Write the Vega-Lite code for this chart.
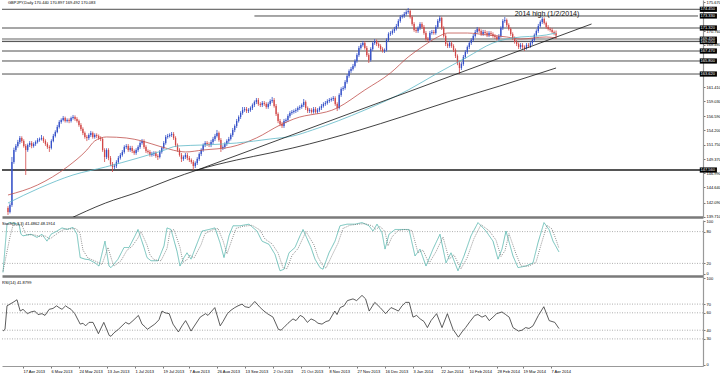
{
"$schema":"https://vega.github.io/schema/vega-lite/v6.json",
"padding":0,
"background":"white",
"spacing":0,
"resolve":{"scale":{"color":"independent","strokeDash":"independent"}},
"config":{"view":{"stroke":null},"axis":{"grid":false,"title":null,"labelOverlap":false,"labelSeparation":0,"labelLimit":0}},
"datasets":{
"candles":[
{"i":0,"o":141.21,"h":141.5,"l":140.04,"c":140.54},{"i":1,"o":140.54,"h":142.0,"l":140.3,"c":141.71},{"i":2,"o":141.71,"h":149.74,"l":141.4,"c":148.9},{"i":3,"o":148.9,"h":151.3,"l":148.6,"c":150.91},{"i":4,"o":150.91,"h":151.9,"l":150.6,"c":151.58},{"i":5,"o":151.58,"h":152.6,"l":151.3,"c":152.25},{"i":6,"o":152.25,"h":153.25,"l":151.9,"c":152.92},{"i":7,"o":152.92,"h":153.2,"l":152.1,"c":152.42},{"i":8,"o":152.42,"h":152.7,"l":151.3,"c":151.58},{"i":9,"o":151.58,"h":151.9,"l":146.73,"c":150.91},
{"i":10,"o":150.91,"h":152.0,"l":150.6,"c":151.75},{"i":11,"o":151.75,"h":152.4,"l":151.4,"c":152.08},{"i":12,"o":152.08,"h":152.4,"l":151.2,"c":151.58},{"i":13,"o":151.58,"h":152.2,"l":151.3,"c":151.91},{"i":14,"o":151.91,"h":152.5,"l":151.6,"c":152.25},{"i":15,"o":152.25,"h":152.9,"l":152.0,"c":152.58},{"i":16,"o":152.58,"h":153.0,"l":152.3,"c":152.75},{"i":17,"o":152.75,"h":153.42,"l":152.5,"c":152.92},{"i":18,"o":152.92,"h":153.2,"l":152.1,"c":152.42},{"i":19,"o":152.42,"h":152.7,"l":151.6,"c":151.91},
{"i":20,"o":151.91,"h":152.2,"l":151.1,"c":151.41},{"i":21,"o":151.41,"h":151.7,"l":150.58,"c":151.25},{"i":22,"o":151.25,"h":152.7,"l":151.0,"c":152.42},{"i":23,"o":152.42,"h":153.6,"l":152.2,"c":153.25},{"i":24,"o":153.25,"h":154.2,"l":153.0,"c":153.92},{"i":25,"o":153.92,"h":155.1,"l":153.7,"c":154.76},{"i":26,"o":154.76,"h":155.9,"l":154.5,"c":155.59},{"i":27,"o":155.59,"h":156.2,"l":155.3,"c":155.93},{"i":28,"o":155.93,"h":156.6,"l":155.7,"c":156.26},{"i":29,"o":156.26,"h":156.5,"l":155.5,"c":155.76},
{"i":30,"o":155.76,"h":156.2,"l":155.5,"c":155.93},{"i":31,"o":155.93,"h":156.2,"l":155.4,"c":155.76},{"i":32,"o":155.76,"h":156.5,"l":155.5,"c":156.26},{"i":33,"o":156.26,"h":156.77,"l":156.0,"c":156.43},{"i":34,"o":156.43,"h":156.7,"l":155.8,"c":156.1},{"i":35,"o":156.1,"h":156.4,"l":155.5,"c":155.76},{"i":36,"o":155.76,"h":156.0,"l":154.8,"c":155.09},{"i":37,"o":155.09,"h":155.4,"l":154.1,"c":154.42},{"i":38,"o":154.42,"h":154.7,"l":153.4,"c":153.75},{"i":39,"o":153.75,"h":154.0,"l":152.8,"c":153.09},
{"i":40,"o":153.09,"h":153.4,"l":152.4,"c":152.92},{"i":41,"o":152.92,"h":153.7,"l":152.6,"c":153.42},{"i":42,"o":153.42,"h":154.1,"l":153.1,"c":153.75},{"i":43,"o":153.75,"h":154.0,"l":152.8,"c":153.09},{"i":44,"o":153.09,"h":153.7,"l":152.8,"c":153.42},{"i":45,"o":153.42,"h":153.7,"l":152.9,"c":153.25},{"i":46,"o":153.25,"h":153.5,"l":152.6,"c":152.92},{"i":47,"o":152.92,"h":153.2,"l":152.4,"c":152.75},{"i":48,"o":152.75,"h":153.0,"l":150.6,"c":150.91},{"i":49,"o":150.91,"h":151.2,"l":148.9,"c":149.74},
{"i":50,"o":149.74,"h":151.2,"l":149.4,"c":150.91},{"i":51,"o":150.91,"h":151.2,"l":149.2,"c":149.57},{"i":52,"o":149.57,"h":149.9,"l":148.2,"c":148.57},{"i":53,"o":148.57,"h":148.9,"l":147.23,"c":148.07},{"i":54,"o":148.07,"h":148.6,"l":147.7,"c":148.23},{"i":55,"o":148.23,"h":149.2,"l":147.9,"c":148.9},{"i":56,"o":148.9,"h":149.9,"l":148.6,"c":149.57},{"i":57,"o":149.57,"h":150.4,"l":149.3,"c":150.07},{"i":58,"o":150.07,"h":150.9,"l":149.8,"c":150.58},{"i":59,"o":150.58,"h":151.7,"l":150.3,"c":151.41},
{"i":60,"o":151.41,"h":151.9,"l":151.1,"c":151.58},{"i":61,"o":151.58,"h":151.9,"l":150.6,"c":150.91},{"i":62,"o":150.91,"h":151.6,"l":150.6,"c":151.25},{"i":63,"o":151.25,"h":151.6,"l":150.4,"c":150.74},{"i":64,"o":150.74,"h":151.0,"l":150.1,"c":150.41},{"i":65,"o":150.41,"h":151.2,"l":150.1,"c":150.91},{"i":66,"o":150.91,"h":151.7,"l":150.6,"c":151.41},{"i":67,"o":151.41,"h":152.4,"l":151.1,"c":152.08},{"i":68,"o":152.08,"h":152.75,"l":151.8,"c":152.42},{"i":69,"o":152.42,"h":152.7,"l":151.1,"c":151.41},
{"i":70,"o":151.41,"h":151.7,"l":150.4,"c":150.74},{"i":71,"o":150.74,"h":151.0,"l":150.3,"c":150.58},{"i":72,"o":150.58,"h":150.9,"l":149.8,"c":150.07},{"i":73,"o":150.07,"h":150.6,"l":149.8,"c":150.24},{"i":74,"o":150.24,"h":150.7,"l":149.9,"c":150.41},{"i":75,"o":150.41,"h":150.7,"l":149.6,"c":149.91},{"i":76,"o":149.91,"h":150.2,"l":149.24,"c":149.74},{"i":77,"o":149.74,"h":150.9,"l":149.5,"c":150.58},{"i":78,"o":150.58,"h":151.5,"l":150.3,"c":151.25},{"i":79,"o":151.25,"h":152.4,"l":151.0,"c":152.08},
{"i":80,"o":152.08,"h":153.4,"l":151.8,"c":153.09},{"i":81,"o":153.09,"h":153.6,"l":152.8,"c":153.25},{"i":82,"o":153.25,"h":153.7,"l":153.0,"c":153.42},{"i":83,"o":153.42,"h":153.92,"l":153.1,"c":153.59},{"i":84,"o":153.59,"h":153.9,"l":152.6,"c":152.92},{"i":85,"o":152.92,"h":153.2,"l":151.4,"c":151.75},{"i":86,"o":151.75,"h":152.0,"l":150.6,"c":150.91},{"i":87,"o":150.91,"h":151.2,"l":149.8,"c":150.07},{"i":88,"o":150.07,"h":150.4,"l":148.9,"c":149.4},{"i":89,"o":149.4,"h":150.0,"l":149.1,"c":149.74},
{"i":90,"o":149.74,"h":150.4,"l":149.4,"c":150.07},{"i":91,"o":150.07,"h":150.4,"l":149.2,"c":149.57},{"i":92,"o":149.57,"h":149.9,"l":148.9,"c":149.24},{"i":93,"o":149.24,"h":149.5,"l":148.6,"c":148.9},{"i":94,"o":148.9,"h":149.2,"l":147.56,"c":148.23},{"i":95,"o":148.23,"h":149.0,"l":147.9,"c":148.74},{"i":96,"o":148.74,"h":149.7,"l":148.4,"c":149.4},{"i":97,"o":149.4,"h":150.5,"l":149.1,"c":150.24},{"i":98,"o":150.24,"h":151.2,"l":149.9,"c":150.91},{"i":99,"o":150.91,"h":152.0,"l":150.6,"c":151.75},
{"i":100,"o":151.75,"h":152.4,"l":151.4,"c":152.08},{"i":101,"o":152.08,"h":152.4,"l":151.6,"c":151.91},{"i":102,"o":151.91,"h":152.2,"l":151.4,"c":151.75},{"i":103,"o":151.75,"h":152.6,"l":151.4,"c":152.25},{"i":104,"o":152.25,"h":153.1,"l":151.9,"c":152.75},{"i":105,"o":152.75,"h":153.6,"l":152.4,"c":153.25},{"i":106,"o":153.25,"h":154.26,"l":153.0,"c":153.75},{"i":107,"o":153.75,"h":154.0,"l":152.3,"c":152.58},{"i":108,"o":152.58,"h":152.9,"l":150.58,"c":151.25},{"i":109,"o":151.25,"h":151.7,"l":150.9,"c":151.41},
{"i":110,"o":151.41,"h":152.2,"l":151.1,"c":151.91},{"i":111,"o":151.91,"h":152.7,"l":151.6,"c":152.42},{"i":112,"o":152.42,"h":153.1,"l":152.1,"c":152.75},{"i":113,"o":152.75,"h":153.7,"l":152.5,"c":153.42},{"i":114,"o":153.42,"h":154.6,"l":153.1,"c":154.26},{"i":115,"o":154.26,"h":155.2,"l":153.9,"c":154.92},{"i":116,"o":154.92,"h":156.1,"l":154.6,"c":155.76},{"i":117,"o":155.76,"h":156.7,"l":155.5,"c":156.43},{"i":118,"o":156.43,"h":157.4,"l":156.1,"c":157.1},{"i":119,"o":157.1,"h":158.1,"l":156.8,"c":157.6},
{"i":120,"o":157.6,"h":158.1,"l":157.3,"c":157.77},{"i":121,"o":157.77,"h":158.1,"l":157.1,"c":157.43},{"i":122,"o":157.43,"h":157.9,"l":157.1,"c":157.6},{"i":123,"o":157.6,"h":158.2,"l":157.3,"c":157.94},{"i":124,"o":157.94,"h":158.7,"l":157.6,"c":158.44},{"i":125,"o":158.44,"h":159.2,"l":158.1,"c":158.94},{"i":126,"o":158.94,"h":159.61,"l":158.6,"c":159.28},{"i":127,"o":159.28,"h":159.6,"l":158.3,"c":158.61},{"i":128,"o":158.61,"h":158.9,"l":158.1,"c":158.44},{"i":129,"o":158.44,"h":159.1,"l":158.1,"c":158.77},
{"i":130,"o":158.77,"h":159.1,"l":158.3,"c":158.61},{"i":131,"o":158.61,"h":158.9,"l":157.8,"c":158.1},{"i":132,"o":158.1,"h":158.9,"l":157.8,"c":158.61},{"i":133,"o":158.61,"h":159.4,"l":158.3,"c":159.11},{"i":134,"o":159.11,"h":159.78,"l":158.8,"c":159.28},{"i":135,"o":159.28,"h":159.6,"l":158.0,"c":158.27},{"i":136,"o":158.27,"h":158.6,"l":156.6,"c":156.93},{"i":137,"o":156.93,"h":157.2,"l":155.4,"c":155.76},{"i":138,"o":155.76,"h":156.1,"l":154.9,"c":155.26},{"i":139,"o":155.26,"h":155.6,"l":154.59,"c":154.92},
{"i":140,"o":154.92,"h":156.1,"l":154.6,"c":155.76},{"i":141,"o":155.76,"h":156.2,"l":155.4,"c":155.93},{"i":142,"o":155.93,"h":156.9,"l":155.6,"c":156.6},{"i":143,"o":156.6,"h":157.4,"l":156.3,"c":157.1},{"i":144,"o":157.1,"h":157.6,"l":156.8,"c":157.27},{"i":145,"o":157.27,"h":157.7,"l":157.0,"c":157.43},{"i":146,"o":157.43,"h":157.9,"l":157.1,"c":157.6},{"i":147,"o":157.6,"h":158.2,"l":157.3,"c":157.94},{"i":148,"o":157.94,"h":158.4,"l":157.6,"c":158.1},{"i":149,"o":158.1,"h":158.7,"l":157.8,"c":158.44},
{"i":150,"o":158.44,"h":159.44,"l":158.1,"c":158.94},{"i":151,"o":158.94,"h":159.2,"l":157.6,"c":157.94},{"i":152,"o":157.94,"h":158.2,"l":157.1,"c":157.43},{"i":153,"o":157.43,"h":157.9,"l":157.1,"c":157.6},{"i":154,"o":157.6,"h":157.9,"l":157.0,"c":157.27},{"i":155,"o":157.27,"h":158.1,"l":157.0,"c":157.77},{"i":156,"o":157.77,"h":158.1,"l":157.0,"c":157.27},{"i":157,"o":157.27,"h":157.9,"l":157.0,"c":157.6},{"i":158,"o":157.6,"h":158.2,"l":157.3,"c":157.94},{"i":159,"o":157.94,"h":158.6,"l":157.6,"c":158.27},
{"i":160,"o":158.27,"h":158.9,"l":158.0,"c":158.61},{"i":161,"o":158.61,"h":159.1,"l":158.3,"c":158.77},{"i":162,"o":158.77,"h":159.4,"l":158.5,"c":159.11},{"i":163,"o":159.11,"h":159.6,"l":158.8,"c":159.28},{"i":164,"o":159.28,"h":159.7,"l":159.0,"c":159.44},{"i":165,"o":159.44,"h":159.94,"l":159.1,"c":159.61},{"i":166,"o":159.61,"h":159.9,"l":158.3,"c":158.61},{"i":167,"o":158.61,"h":158.9,"l":157.43,"c":157.94},{"i":168,"o":157.94,"h":160.4,"l":157.7,"c":160.11},{"i":169,"o":160.11,"h":161.4,"l":159.8,"c":161.12},
{"i":170,"o":161.12,"h":161.6,"l":160.8,"c":161.28},{"i":171,"o":161.28,"h":162.6,"l":161.0,"c":162.29},{"i":172,"o":162.29,"h":163.6,"l":162.0,"c":163.29},{"i":173,"o":163.29,"h":164.4,"l":163.0,"c":164.13},{"i":174,"o":164.13,"h":164.8,"l":163.8,"c":164.46},{"i":175,"o":164.46,"h":165.3,"l":164.2,"c":164.96},{"i":176,"o":164.96,"h":166.1,"l":164.7,"c":165.8},{"i":177,"o":165.8,"h":167.1,"l":165.5,"c":166.8},{"i":178,"o":166.8,"h":168.3,"l":166.5,"c":167.97},{"i":179,"o":167.97,"h":168.8,"l":167.7,"c":168.48},
{"i":180,"o":168.48,"h":169.15,"l":168.2,"c":168.81},{"i":181,"o":168.81,"h":169.1,"l":167.7,"c":167.97},{"i":182,"o":167.97,"h":168.3,"l":166.5,"c":166.8},{"i":183,"o":166.8,"h":167.1,"l":165.47,"c":165.97},{"i":184,"o":165.97,"h":168.1,"l":165.7,"c":167.81},{"i":185,"o":167.81,"h":169.1,"l":167.5,"c":168.81},{"i":186,"o":168.81,"h":169.48,"l":168.5,"c":169.15},{"i":187,"o":169.15,"h":169.4,"l":168.3,"c":168.64},{"i":188,"o":168.64,"h":168.9,"l":168.0,"c":168.31},{"i":189,"o":168.31,"h":168.6,"l":167.5,"c":167.81},
{"i":190,"o":167.81,"h":168.1,"l":167.2,"c":167.47},{"i":191,"o":167.47,"h":167.9,"l":167.14,"c":167.64},{"i":192,"o":167.64,"h":169.6,"l":167.4,"c":169.31},{"i":193,"o":169.31,"h":170.6,"l":169.0,"c":170.32},{"i":194,"o":170.32,"h":170.8,"l":170.0,"c":170.48},{"i":195,"o":170.48,"h":171.1,"l":170.2,"c":170.82},{"i":196,"o":170.82,"h":171.5,"l":170.5,"c":171.15},{"i":197,"o":171.15,"h":172.0,"l":170.9,"c":171.66},{"i":198,"o":171.66,"h":172.8,"l":171.4,"c":172.49},{"i":199,"o":172.49,"h":173.5,"l":172.2,"c":173.16},
{"i":200,"o":173.16,"h":173.6,"l":172.9,"c":173.33},{"i":201,"o":173.33,"h":174.0,"l":173.0,"c":173.66},{"i":202,"o":173.66,"h":174.3,"l":173.4,"c":174.0},{"i":203,"o":174.0,"h":174.67,"l":173.7,"c":174.17},{"i":204,"o":174.17,"h":174.4,"l":172.9,"c":173.16},{"i":205,"o":173.16,"h":173.4,"l":171.7,"c":171.99},{"i":206,"o":171.99,"h":172.3,"l":170.7,"c":170.99},{"i":207,"o":170.99,"h":171.3,"l":170.5,"c":170.82},{"i":208,"o":170.82,"h":171.6,"l":170.5,"c":171.32},{"i":209,"o":171.32,"h":172.3,"l":171.0,"c":171.99},
{"i":210,"o":171.99,"h":172.3,"l":171.2,"c":171.49},{"i":211,"o":171.49,"h":171.8,"l":170.2,"c":170.48},{"i":212,"o":170.48,"h":170.8,"l":169.2,"c":169.48},{"i":213,"o":169.48,"h":169.8,"l":168.98,"c":169.31},{"i":214,"o":169.31,"h":170.8,"l":169.0,"c":170.48},{"i":215,"o":170.48,"h":171.0,"l":170.2,"c":170.65},{"i":216,"o":170.65,"h":171.0,"l":170.2,"c":170.48},{"i":217,"o":170.48,"h":171.8,"l":170.2,"c":171.49},{"i":218,"o":171.49,"h":172.8,"l":171.2,"c":172.49},{"i":219,"o":172.49,"h":173.33,"l":172.2,"c":172.99},
{"i":220,"o":172.99,"h":173.2,"l":171.0,"c":171.32},{"i":221,"o":171.32,"h":171.6,"l":169.7,"c":169.98},{"i":222,"o":169.98,"h":170.3,"l":168.3,"c":168.64},{"i":223,"o":168.64,"h":168.9,"l":167.97,"c":168.31},{"i":224,"o":168.31,"h":169.1,"l":168.0,"c":168.81},{"i":225,"o":168.81,"h":169.1,"l":168.0,"c":168.31},{"i":226,"o":168.31,"h":168.6,"l":167.3,"c":167.64},{"i":227,"o":167.64,"h":167.9,"l":166.3,"c":166.64},{"i":228,"o":166.64,"h":166.9,"l":165.1,"c":165.47},{"i":229,"o":165.47,"h":165.8,"l":163.62,"c":164.63},
{"i":230,"o":164.63,"h":165.6,"l":164.3,"c":165.3},{"i":231,"o":165.3,"h":166.8,"l":165.0,"c":166.47},{"i":232,"o":166.47,"h":167.6,"l":166.2,"c":167.31},{"i":233,"o":167.31,"h":168.4,"l":167.0,"c":168.14},{"i":234,"o":168.14,"h":169.1,"l":167.8,"c":168.81},{"i":235,"o":168.81,"h":169.6,"l":168.5,"c":169.31},{"i":236,"o":169.31,"h":170.3,"l":169.0,"c":169.98},{"i":237,"o":169.98,"h":171.0,"l":169.7,"c":170.65},{"i":238,"o":170.65,"h":171.49,"l":170.4,"c":171.15},{"i":239,"o":171.15,"h":171.4,"l":170.5,"c":170.82},
{"i":240,"o":170.82,"h":171.1,"l":170.0,"c":170.32},{"i":241,"o":170.32,"h":171.0,"l":170.0,"c":170.65},{"i":242,"o":170.65,"h":171.0,"l":170.2,"c":170.48},{"i":243,"o":170.48,"h":170.8,"l":169.8,"c":170.15},{"i":244,"o":170.15,"h":170.8,"l":169.8,"c":170.48},{"i":245,"o":170.48,"h":170.8,"l":170.0,"c":170.32},{"i":246,"o":170.32,"h":170.6,"l":169.7,"c":169.98},{"i":247,"o":169.98,"h":170.3,"l":169.5,"c":169.82},{"i":248,"o":169.82,"h":170.1,"l":169.2,"c":169.48},{"i":249,"o":169.48,"h":170.3,"l":169.2,"c":169.98},
{"i":250,"o":169.98,"h":171.6,"l":169.7,"c":171.32},{"i":251,"o":171.32,"h":172.8,"l":171.0,"c":172.49},{"i":252,"o":172.49,"h":173.16,"l":172.2,"c":172.66},{"i":253,"o":172.66,"h":172.9,"l":171.5,"c":171.82},{"i":254,"o":171.82,"h":172.1,"l":170.9,"c":171.15},{"i":255,"o":171.15,"h":171.4,"l":170.0,"c":170.32},{"i":256,"o":170.32,"h":170.6,"l":169.3,"c":169.65},{"i":257,"o":169.65,"h":169.9,"l":168.7,"c":168.98},{"i":258,"o":168.98,"h":169.3,"l":168.3,"c":168.64},{"i":259,"o":168.64,"h":168.9,"l":167.8,"c":168.14},
{"i":260,"o":168.14,"h":168.8,"l":167.8,"c":168.48},{"i":261,"o":168.48,"h":168.8,"l":167.8,"c":168.14},{"i":262,"o":168.14,"h":168.4,"l":167.47,"c":167.97},{"i":263,"o":167.97,"h":168.8,"l":167.7,"c":168.48},{"i":264,"o":168.48,"h":168.8,"l":168.0,"c":168.31},{"i":265,"o":168.31,"h":169.1,"l":168.0,"c":168.81},{"i":266,"o":168.81,"h":169.6,"l":168.5,"c":169.31},{"i":267,"o":169.31,"h":170.4,"l":169.0,"c":170.15},{"i":268,"o":170.15,"h":171.1,"l":169.9,"c":170.82},{"i":269,"o":170.82,"h":172.0,"l":170.5,"c":171.66},
{"i":270,"o":171.66,"h":172.6,"l":171.4,"c":172.32},{"i":271,"o":172.32,"h":173.16,"l":172.0,"c":172.83},{"i":272,"o":172.83,"h":173.1,"l":171.9,"c":172.16},{"i":273,"o":172.16,"h":172.4,"l":171.2,"c":171.49},{"i":274,"o":171.49,"h":171.8,"l":170.9,"c":171.15},{"i":275,"o":171.15,"h":171.4,"l":170.7,"c":170.99},{"i":276,"o":170.99,"h":171.3,"l":170.4,"c":170.65},{"i":277,"o":170.65,"h":170.9,"l":170.1,"c":170.44},{"i":278,"o":170.44,"h":170.897,"l":169.492,"c":170.083}
],
"lines":[
{"s":"ma50","i":0,"v":143.38},{"s":"ma50","i":15,"v":145.06},{"s":"ma50","i":30,"v":148.07},{"s":"ma50","i":40,"v":150.91},{"s":"ma50","i":44,"v":152.42},{"s":"ma50","i":50,"v":153.09},{"s":"ma50","i":60,"v":152.92},{"s":"ma50","i":68,"v":152.42},{"s":"ma50","i":78,"v":151.41},{"s":"ma50","i":90,"v":150.58},{"s":"ma50","i":99,"v":150.91},{"s":"ma50","i":113,"v":151.41},{"s":"ma50","i":126,"v":152.92},{"s":"ma50","i":138,"v":155.09},{"s":"ma50","i":145,"v":156.1},{"s":"ma50","i":167,"v":157.94},{"s":"ma50","i":181,"v":160.95},{"s":"ma50","i":194,"v":163.79},{"s":"ma50","i":203,"v":166.47},{"s":"ma50","i":210,"v":168.14},{"s":"ma50","i":218,"v":169.82},{"s":"ma50","i":223,"v":170.48},{"s":"ma50","i":233,"v":170.48},{"s":"ma50","i":243,"v":170.15},{"s":"ma50","i":253,"v":169.82},{"s":"ma50","i":260,"v":169.48},{"s":"ma50","i":273,"v":169.82},{"s":"ma50","i":278,"v":169.65},
{"s":"ma100","i":0,"v":142.04},{"s":"ma100","i":16,"v":144.55},{"s":"ma100","i":33,"v":146.73},{"s":"ma100","i":49.5,"v":148.07},{"s":"ma100","i":66,"v":149.57},{"s":"ma100","i":78,"v":150.74},{"s":"ma100","i":86,"v":151.58},{"s":"ma100","i":99.5,"v":151.75},{"s":"ma100","i":116,"v":152.08},{"s":"ma100","i":133,"v":152.75},{"s":"ma100","i":144.5,"v":153.25},{"s":"ma100","i":154.5,"v":154.26},{"s":"ma100","i":181,"v":157.6},{"s":"ma100","i":203,"v":160.95},{"s":"ma100","i":218,"v":163.79},{"s":"ma100","i":233,"v":166.47},{"s":"ma100","i":246,"v":168.81},{"s":"ma100","i":256,"v":169.65},{"s":"ma100","i":273,"v":170.15},{"s":"ma100","i":278,"v":170.48},
{"s":"ma200","i":30,"v":139.2},{"s":"ma200","i":49.5,"v":142.04},{"s":"ma200","i":66,"v":143.88},{"s":"ma200","i":83,"v":146.06},{"s":"ma200","i":96,"v":147.56},{"s":"ma200","i":116,"v":149.24},{"s":"ma200","i":133,"v":150.41},{"s":"ma200","i":144.5,"v":151.25},{"s":"ma200","i":178.5,"v":154.26},{"s":"ma200","i":199.5,"v":156.43},{"s":"ma200","i":224.5,"v":159.11},{"s":"ma200","i":249.5,"v":161.62},{"s":"ma200","i":278,"v":164.63},
{"s":"trend","i":96,"v":147.56},{"s":"trend","i":296,"v":171.99}
],
"levels":[{"v":174.45},{"v":171.32},{"v":169.05},{"v":167.47},{"v":165.8},{"v":163.62}],
"levelGrey":[{"v":169.45}],
"levelThick":[{"v":147.56}],
"levelPartial":[{"v":173.33,"from":125}],
"boxes":[{"v":174.45},{"v":173.33},{"v":171.32},{"v":169.45},{"v":169.05},{"v":167.47},{"v":165.8},{"v":163.62},{"v":147.56}],
"stoch":[
{"s":"main","i":0,"v":3},{"s":"main","i":2,"v":94},{"s":"main","i":3,"v":97},{"s":"main","i":8,"v":94},{"s":"main","i":9,"v":75},{"s":"main","i":10,"v":72},{"s":"main","i":14,"v":75},{"s":"main","i":17,"v":69},{"s":"main","i":19.5,"v":75},{"s":"main","i":22,"v":62},{"s":"main","i":24,"v":75},{"s":"main","i":27,"v":81},{"s":"main","i":29.5,"v":87},{"s":"main","i":32,"v":84},{"s":"main","i":35,"v":88},{"s":"main","i":37,"v":75},{"s":"main","i":38.6,"v":31},{"s":"main","i":41,"v":28},{"s":"main","i":43,"v":27},{"s":"main","i":46,"v":21},{"s":"main","i":48,"v":15},{"s":"main","i":51,"v":62},{"s":"main","i":53,"v":15},{"s":"main","i":54,"v":12},{"s":"main","i":57.5,"v":28},{"s":"main","i":60.5,"v":50},{"s":"main","i":63,"v":50},{"s":"main","i":66,"v":72},{"s":"main","i":67.5,"v":84},{"s":"main","i":70.5,"v":50},{"s":"main","i":72,"v":31},{"s":"main","i":74,"v":25},{"s":"main","i":77.5,"v":25},{"s":"main","i":80.5,"v":53},{"s":"main","i":82,"v":87},{"s":"main","i":84,"v":84},{"s":"main","i":87,"v":43},{"s":"main","i":88.5,"v":15},{"s":"main","i":90.5,"v":31},{"s":"main","i":92,"v":40},{"s":"main","i":94,"v":28},{"s":"main","i":97.5,"v":62},{"s":"main","i":99.5,"v":81},{"s":"main","i":103,"v":84},{"s":"main","i":106,"v":87},{"s":"main","i":108.5,"v":59},{"s":"main","i":110.5,"v":31},{"s":"main","i":113,"v":72},{"s":"main","i":115,"v":91},{"s":"main","i":118.5,"v":91},{"s":"main","i":123,"v":94},{"s":"main","i":127,"v":81},{"s":"main","i":129.5,"v":62},{"s":"main","i":133,"v":56},{"s":"main","i":136,"v":37},{"s":"main","i":138.5,"v":6},{"s":"main","i":140.5,"v":9},{"s":"main","i":143,"v":40},{"s":"main","i":146,"v":50},{"s":"main","i":148.5,"v":72},{"s":"main","i":150,"v":84},{"s":"main","i":154,"v":50},{"s":"main","i":156,"v":28},{"s":"main","i":158.5,"v":12},{"s":"main","i":160,"v":9},{"s":"main","i":163,"v":40},{"s":"main","i":166,"v":62},{"s":"main","i":168.5,"v":91},{"s":"main","i":172,"v":94},{"s":"main","i":176,"v":94},{"s":"main","i":179.5,"v":97},{"s":"main","i":183,"v":91},{"s":"main","i":185,"v":81},{"s":"main","i":187,"v":94},{"s":"main","i":189.5,"v":78},{"s":"main","i":191,"v":47},{"s":"main","i":193,"v":75},{"s":"main","i":196,"v":84},{"s":"main","i":199.5,"v":84},{"s":"main","i":203,"v":84},{"s":"main","i":206,"v":34},{"s":"main","i":208.5,"v":47},{"s":"main","i":211.5,"v":15},{"s":"main","i":215,"v":47},{"s":"main","i":218.5,"v":75},{"s":"main","i":221.5,"v":21},{"s":"main","i":224,"v":40},{"s":"main","i":227.5,"v":6},{"s":"main","i":230.5,"v":34},{"s":"main","i":234,"v":72},{"s":"main","i":237.5,"v":97},{"s":"main","i":241.5,"v":81},{"s":"main","i":245,"v":62},{"s":"main","i":247.5,"v":28},{"s":"main","i":249.5,"v":47},{"s":"main","i":251.5,"v":81},{"s":"main","i":255,"v":34},{"s":"main","i":257.5,"v":12},{"s":"main","i":261.5,"v":15},{"s":"main","i":265,"v":21},{"s":"main","i":267.5,"v":59},{"s":"main","i":270.5,"v":97},{"s":"main","i":273,"v":84},{"s":"main","i":275,"v":62},{"s":"main","i":278,"v":41.49},
{"s":"signal","i":0,"v":5},{"s":"signal","i":3.5,"v":70},{"s":"signal","i":5,"v":92},{"s":"signal","i":9.5,"v":92},{"s":"signal","i":11,"v":78},{"s":"signal","i":12,"v":74},{"s":"signal","i":15.5,"v":74},{"s":"signal","i":18.5,"v":71},{"s":"signal","i":21,"v":72},{"s":"signal","i":23.5,"v":66},{"s":"signal","i":25.5,"v":72},{"s":"signal","i":28.5,"v":80},{"s":"signal","i":31,"v":85},{"s":"signal","i":33.5,"v":85},{"s":"signal","i":36.5,"v":86},{"s":"signal","i":38.5,"v":77},{"s":"signal","i":40,"v":45},{"s":"signal","i":42.5,"v":30},{"s":"signal","i":44.5,"v":27},{"s":"signal","i":47.5,"v":22},{"s":"signal","i":49.5,"v":18},{"s":"signal","i":52.5,"v":50},{"s":"signal","i":54.5,"v":25},{"s":"signal","i":55.5,"v":15},{"s":"signal","i":59,"v":25},{"s":"signal","i":62,"v":45},{"s":"signal","i":64.5,"v":52},{"s":"signal","i":67.5,"v":68},{"s":"signal","i":69,"v":80},{"s":"signal","i":72,"v":55},{"s":"signal","i":73.5,"v":36},{"s":"signal","i":75.5,"v":27},{"s":"signal","i":79,"v":25},{"s":"signal","i":82,"v":48},{"s":"signal","i":83.5,"v":80},{"s":"signal","i":85.5,"v":84},{"s":"signal","i":88.5,"v":50},{"s":"signal","i":90,"v":22},{"s":"signal","i":92,"v":27},{"s":"signal","i":93.5,"v":36},{"s":"signal","i":95.5,"v":30},{"s":"signal","i":99,"v":55},{"s":"signal","i":101,"v":76},{"s":"signal","i":104.5,"v":83},{"s":"signal","i":107.5,"v":86},{"s":"signal","i":110,"v":63},{"s":"signal","i":112,"v":38},{"s":"signal","i":114.5,"v":65},{"s":"signal","i":116.5,"v":86},{"s":"signal","i":120,"v":90},{"s":"signal","i":124.5,"v":92},{"s":"signal","i":128.5,"v":83},{"s":"signal","i":131,"v":66},{"s":"signal","i":134.5,"v":57},{"s":"signal","i":137.5,"v":40},{"s":"signal","i":140,"v":12},{"s":"signal","i":142,"v":10},{"s":"signal","i":144.5,"v":35},{"s":"signal","i":147.5,"v":48},{"s":"signal","i":150,"v":68},{"s":"signal","i":151.5,"v":80},{"s":"signal","i":155.5,"v":55},{"s":"signal","i":157.5,"v":32},{"s":"signal","i":160,"v":15},{"s":"signal","i":161.5,"v":11},{"s":"signal","i":164.5,"v":35},{"s":"signal","i":167.5,"v":58},{"s":"signal","i":170,"v":86},{"s":"signal","i":173.5,"v":92},{"s":"signal","i":177.5,"v":94},{"s":"signal","i":181,"v":95},{"s":"signal","i":184.5,"v":91},{"s":"signal","i":186.5,"v":84},{"s":"signal","i":188.5,"v":90},{"s":"signal","i":191,"v":80},{"s":"signal","i":192.5,"v":53},{"s":"signal","i":194.5,"v":70},{"s":"signal","i":197.5,"v":82},{"s":"signal","i":201,"v":84},{"s":"signal","i":204.5,"v":82},{"s":"signal","i":207.5,"v":40},{"s":"signal","i":210,"v":45},{"s":"signal","i":213,"v":20},{"s":"signal","i":216.5,"v":42},{"s":"signal","i":220,"v":70},{"s":"signal","i":223,"v":28},{"s":"signal","i":225.5,"v":36},{"s":"signal","i":229,"v":10},{"s":"signal","i":232,"v":30},{"s":"signal","i":235.5,"v":67},{"s":"signal","i":239,"v":93},{"s":"signal","i":243,"v":82},{"s":"signal","i":246.5,"v":64},{"s":"signal","i":249,"v":33},{"s":"signal","i":251,"v":44},{"s":"signal","i":253,"v":76},{"s":"signal","i":256.5,"v":38},{"s":"signal","i":259,"v":15},{"s":"signal","i":263,"v":15},{"s":"signal","i":266.5,"v":22},{"s":"signal","i":269,"v":55},{"s":"signal","i":272,"v":92},{"s":"signal","i":274.5,"v":85},{"s":"signal","i":276.5,"v":65},{"s":"signal","i":278,"v":48.19}
],
"rsi":[
{"i":0,"v":39},{"i":1,"v":41},{"i":2,"v":68},{"i":5,"v":72},{"i":7,"v":75},{"i":8.6,"v":62},{"i":10,"v":64},{"i":12.2,"v":59},{"i":14,"v":61},{"i":15.9,"v":62},{"i":17.5,"v":58},{"i":19.5,"v":59},{"i":21,"v":57},{"i":23.1,"v":64},{"i":25,"v":65},{"i":26.8,"v":68},{"i":28,"v":66},{"i":29.5,"v":64},{"i":31.3,"v":68},{"i":32.5,"v":66},{"i":34,"v":64},{"i":35.9,"v":59},{"i":38.6,"v":47},{"i":40,"v":48},{"i":41.3,"v":45},{"i":43,"v":49},{"i":45,"v":49},{"i":47.7,"v":36},{"i":50.4,"v":49},{"i":53.1,"v":34},{"i":54,"v":33},{"i":55.5,"v":37},{"i":57.7,"v":41},{"i":59.5,"v":45},{"i":61.3,"v":49},{"i":63,"v":47},{"i":65,"v":51},{"i":67.7,"v":57},{"i":69.5,"v":47},{"i":71,"v":44},{"i":72.2,"v":41},{"i":74,"v":44},{"i":75.9,"v":47},{"i":78,"v":52},{"i":79.5,"v":62},{"i":81,"v":60},{"i":83.1,"v":59},{"i":85,"v":47},{"i":87.7,"v":38},{"i":89.5,"v":45},{"i":91.3,"v":51},{"i":92.5,"v":46},{"i":94,"v":39},{"i":96,"v":46},{"i":98.6,"v":55},{"i":101.3,"v":59},{"i":102.5,"v":57},{"i":104,"v":61},{"i":105.9,"v":66},{"i":108.6,"v":45},{"i":110,"v":50},{"i":112.2,"v":59},{"i":114,"v":63},{"i":115.9,"v":66},{"i":117.5,"v":68},{"i":119.5,"v":70},{"i":121,"v":67},{"i":123.1,"v":66},{"i":125.9,"v":73},{"i":128.6,"v":66},{"i":130.5,"v":62},{"i":132.2,"v":59},{"i":135,"v":55},{"i":137.7,"v":41},{"i":139,"v":40},{"i":140.4,"v":43},{"i":142.5,"v":48},{"i":145,"v":53},{"i":146.5,"v":51},{"i":148.6,"v":57},{"i":150.2,"v":55},{"i":152.2,"v":49},{"i":154,"v":53},{"i":155.9,"v":51},{"i":157.5,"v":48},{"i":159.5,"v":47},{"i":161.5,"v":50},{"i":163.1,"v":51},{"i":165.9,"v":62},{"i":167,"v":58},{"i":168.6,"v":66},{"i":170.5,"v":68},{"i":172.2,"v":74},{"i":175,"v":76},{"i":176.8,"v":74},{"i":179.5,"v":80},{"i":181.3,"v":76},{"i":183.1,"v":62},{"i":185.9,"v":72},{"i":188.6,"v":66},{"i":191.3,"v":59},{"i":194,"v":66},{"i":196,"v":64},{"i":197.7,"v":62},{"i":199.5,"v":68},{"i":201.3,"v":72},{"i":203.1,"v":72},{"i":205,"v":55},{"i":206.8,"v":57},{"i":208.6,"v":53},{"i":210.5,"v":50},{"i":212.2,"v":43},{"i":214,"v":51},{"i":216.8,"v":59},{"i":219.5,"v":43},{"i":222.2,"v":59},{"i":225,"v":41},{"i":227.7,"v":32},{"i":229.5,"v":38},{"i":231.3,"v":43},{"i":233.5,"v":50},{"i":235.9,"v":57},{"i":237.5,"v":58},{"i":239.5,"v":55},{"i":241.3,"v":57},{"i":243.1,"v":51},{"i":245,"v":55},{"i":246.8,"v":59},{"i":249.5,"v":61},{"i":251.3,"v":58},{"i":253.1,"v":55},{"i":255,"v":43},{"i":257.7,"v":39},{"i":259.5,"v":40},{"i":261.3,"v":43},{"i":263,"v":42},{"i":265,"v":45},{"i":267.7,"v":57},{"i":270.4,"v":67},{"i":273.1,"v":51},{"i":275.9,"v":49},{"i":278,"v":41.88}
]
},
"vconcat":[
{"width":701,"height":217,
"layer":[
{"data":{"name":"levels"},"mark":{"type":"rule","color":"#3a3a3a","strokeWidth":0.9},
 "encoding":{"y":{"field":"v","type":"quantitative","title":null,"scale":{"domain":[139.7,176.005],"nice":false,"zero":false},
 "axis":{"orient":"right","values":[139.71,142.09,144.64,146.99,149.37,151.75,154.2,156.59,159.03,161.41,168.48,170.76,175.67],"tickCount":100,"format":".3f","tickSize":2,"labelPadding":1,"labelFontSize":4,"labelFont":"Liberation Sans","labelColor":"#000","domainColor":"#999","domainWidth":1.2,"tickColor":"#777","labelOverlap":false,"labelSeparation":0,"labelBound":false,"labelFlush":false,"labelBaseline":"middle"}}}},
{"data":{"name":"levelGrey"},"mark":{"type":"rule","color":"#b0b0b0","strokeWidth":2.5},"encoding":{"y":{"field":"v","type":"quantitative","title":null}}},
{"data":{"name":"levelThick"},"mark":{"type":"rule","color":"#555555","strokeWidth":2},"encoding":{"y":{"field":"v","type":"quantitative","title":null}}},
{"data":{"name":"levelPartial"},"mark":{"type":"rule","color":"#3a3a3a","strokeWidth":0.9},"encoding":{"x":{"field":"from","type":"quantitative","title":null},"x2":{"datum":350},"y":{"field":"v","type":"quantitative","title":null}}},
{"data":{"name":"candles"},"mark":{"type":"rule","strokeWidth":0.8,"clip":true},
 "encoding":{"x":{"field":"i","type":"quantitative","title":null,"scale":{"domain":[-0.5,350],"nice":false,"zero":false},
 "axis":{"orient":"bottom","labels":false,"ticks":false,"domain":true,"domainColor":"#7a7a7a","domainWidth":2.5}},
 "y":{"field":"l","type":"quantitative","title":null},"y2":{"field":"h"},
 "color":{"condition":{"test":"datum.c >= datum.o","value":"#3550c8"},"value":"#d24848"}}},
{"data":{"name":"candles"},"mark":{"type":"bar","width":1.3,"clip":true},
 "encoding":{"x":{"field":"i","type":"quantitative","title":null},"y":{"field":"o","type":"quantitative","title":null},"y2":{"field":"c"},
 "color":{"condition":{"test":"datum.c >= datum.o","value":"#3550c8"},"value":"#d24848"}}},
{"data":{"name":"lines"},"mark":{"type":"line","strokeWidth":0.8,"clip":true,"interpolate":"monotone"},
 "encoding":{"x":{"field":"i","type":"quantitative","title":null},"y":{"field":"v","type":"quantitative","title":null},
 "color":{"field":"s","type":"nominal","scale":{"domain":["ma50","ma100","ma200","trend"],"range":["#c0504d","#5db7c7","#111111","#111111"]},"legend":null}}},
{"data":{"values":[{"i":0,"v":175.5,"t":"GBPJPY,Daily  170.440 170.897 169.492 170.083"}]},"mark":{"type":"text","fontSize":4,"font":"Liberation Sans","align":"left","baseline":"middle","color":"#000"},
 "encoding":{"x":{"field":"i","type":"quantitative"},"y":{"field":"v","type":"quantitative"},"text":{"field":"t"}}},
{"data":{"values":[{"i":257,"v":173.66,"t":"2014 high (1/2/2014)"}]},"mark":{"type":"text","fontSize":7,"font":"Liberation Sans","align":"left","baseline":"middle","color":"#111"},
 "encoding":{"x":{"field":"i","type":"quantitative"},"y":{"field":"v","type":"quantitative"},"text":{"field":"t"}}},
{"data":{"name":"boxes"},"mark":{"type":"rule","color":"#000000","strokeWidth":5.2,"clip":false},
 "encoding":{"x":{"datum":350.9},"x2":{"datum":359.6},"y":{"field":"v","type":"quantitative"}}},
{"data":{"name":"boxes"},"mark":{"type":"text","color":"#ffffff","fontSize":4,"font":"Liberation Sans","align":"left","baseline":"middle","clip":false},
 "encoding":{"x":{"datum":351.3},"y":{"field":"v","type":"quantitative"},"text":{"field":"v","type":"quantitative","format":".3f"}}}
]},
{"width":701,"height":56,
"layer":[
{"data":{"values":[{"v":80},{"v":20}]},"mark":{"type":"rule","color":"#9a9a9a","strokeWidth":0.8,"strokeDash":[1,1.5]},
 "encoding":{"y":{"field":"v","type":"quantitative","title":null,"scale":{"domain":[-3.8,101.9],"nice":false,"zero":false},
 "axis":{"orient":"right","values":[0,20,80,100],"tickCount":100,"format":"d","tickSize":2,"labelPadding":1,"labelFontSize":4,"labelFont":"Liberation Sans","labelColor":"#000","domainColor":"#999","domainWidth":1.2,"tickColor":"#777","labelOverlap":false,"labelSeparation":0,"labelBound":false,"labelFlush":false,"labelBaseline":"middle"}}}},
{"data":{"name":"stoch"},"mark":{"type":"line","strokeWidth":0.8,"clip":true},
 "encoding":{"x":{"field":"i","type":"quantitative","title":null,"scale":{"domain":[-0.5,350],"nice":false,"zero":false},
 "axis":{"orient":"bottom","labels":false,"ticks":false,"domain":true,"domainColor":"#7a7a7a","domainWidth":2.5}},
 "y":{"field":"v","type":"quantitative","title":null},
 "color":{"field":"s","type":"nominal","scale":{"domain":["main","signal"],"range":["#4fb3a9","#707070"]},"legend":null},
 "strokeDash":{"field":"s","type":"nominal","scale":{"domain":["main","signal"],"range":[[1,0],[1,1.2]]},"legend":null}}},
{"data":{"values":[{"i":-0.5,"v":95,"t":"Stoch(5,3,3) 41.4862 48.1914"}]},"mark":{"type":"text","fontSize":4,"font":"Liberation Sans","align":"left","baseline":"middle","color":"#000","clip":true},
 "encoding":{"x":{"field":"i","type":"quantitative"},"y":{"field":"v","type":"quantitative"},"text":{"field":"t"}}}
]},
{"width":701,"height":90,
"layer":[
{"data":{"values":[{"v":70},{"v":60},{"v":40},{"v":30}]},"mark":{"type":"rule","color":"#9a9a9a","strokeWidth":0.8,"strokeDash":[1,1.5]},
 "encoding":{"y":{"field":"v","type":"quantitative","title":null,"scale":{"domain":[-1.15,102.3],"nice":false,"zero":false},
 "axis":{"orient":"right","values":[0,30,40,60,70,100],"tickCount":100,"format":"d","tickSize":2,"labelPadding":1,"labelFontSize":4,"labelFont":"Liberation Sans","labelColor":"#000","domainColor":"#999","domainWidth":1.2,"tickColor":"#777","labelOverlap":false,"labelSeparation":0,"labelBound":false,"labelFlush":false,"labelBaseline":"middle"}}}},
{"data":{"name":"rsi"},"mark":{"type":"line","strokeWidth":0.8,"color":"#333333","clip":true},
 "encoding":{"x":{"field":"i","type":"quantitative","title":null,"scale":{"domain":[-0.5,350],"nice":false,"zero":false},
 "axis":{"orient":"bottom","values":[10,24,38,52,66,80,93,107,121,135,149,163,177,191,205,219,233,247,260,274],"tickCount":100,
 "labelExpr":"['17 Apr 2013','6 May 2013','24 May 2013','13 Jun 2013','1 Jul 2013','19 Jul 2013','7 Aug 2013','26 Aug 2013','13 Sep 2013','2 Oct 2013','21 Oct 2013','8 Nov 2013','27 Nov 2013','16 Dec 2013','3 Jan 2014','22 Jan 2014','10 Feb 2014','28 Feb 2014','19 Mar 2014','7 Apr 2014'][indexof([10,24,38,52,66,80,93,107,121,135,149,163,177,191,205,219,233,247,260,274], datum.value)]",
 "labelAlign":"left","labelPadding":1,"tickSize":2,"labelFontSize":4,"labelFont":"Liberation Sans","labelColor":"#000","domainColor":"#999","domainWidth":1.2,"tickColor":"#777","labelOverlap":false,"labelSeparation":0,"labelFlush":false,"labelBound":false}},
 "y":{"field":"v","type":"quantitative","title":null}}},
{"data":{"values":[{"i":-0.5,"v":94,"t":"RSI(14) 41.8799"}]},"mark":{"type":"text","fontSize":4,"font":"Liberation Sans","align":"left","baseline":"middle","color":"#000","clip":true},
 "encoding":{"x":{"field":"i","type":"quantitative"},"y":{"field":"v","type":"quantitative"},"text":{"field":"t"}}}
]}
]
}
